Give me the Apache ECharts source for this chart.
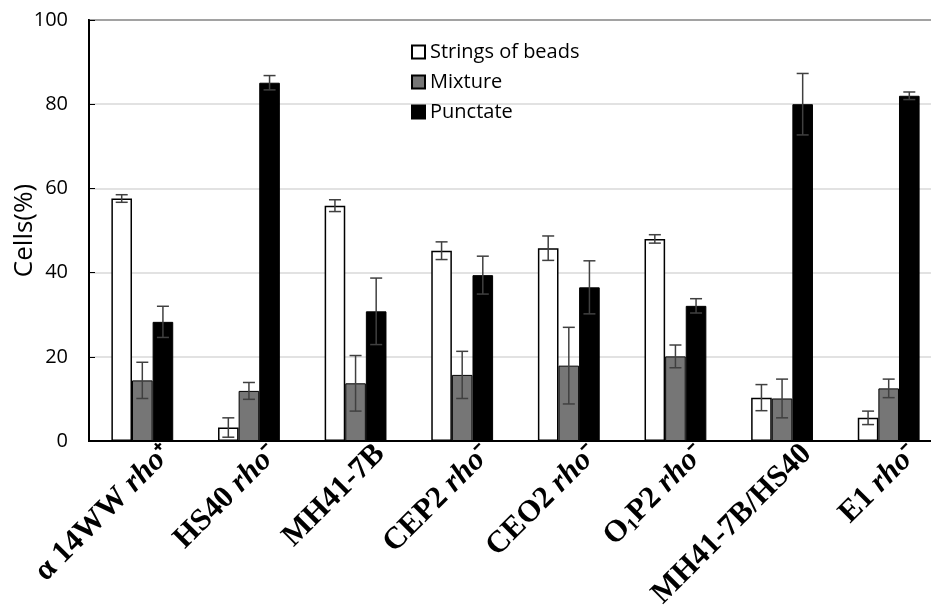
<!DOCTYPE html>
<html>
<head>
<meta charset="utf-8">
<script src="https://cdn.jsdelivr.net/npm/echarts@6/dist/echarts.min.js"></script>
<style>
  html, body { margin: 0; padding: 0; background: #fff; }
  #chart { width: 931px; height: 609px; }
</style>
</head>
<body>
<div id="chart"></div>
<script>
const categories = ['α 14WW rho+', 'HS40 rho-', 'MH41-7B', 'CEP2 rho-', 'CEO2 rho-', 'O1P2 rho-', 'MH41-7B/HS40', 'E1 rho-'];
const seriesNames = ['Strings of beads', 'Mixture', 'Punctate'];

const beads = [57.6, 3.2, 55.9, 45.2, 45.8, 48.0, 10.3, 5.5];
const beadsErr = [0.9, 2.3, 1.4, 2.1, 2.9, 1.0, 3.1, 1.6];
const mixture = [14.4, 11.9, 13.7, 15.7, 17.9, 20.1, 10.1, 12.5];
const mixtureErr = [4.3, 2.0, 6.6, 5.6, 9.1, 2.7, 4.6, 2.2];
const punctate = [28.3, 85.1, 30.8, 39.4, 36.5, 32.1, 80.0, 82.0];
const punctateErr = [3.7, 1.7, 7.9, 4.5, 6.3, 1.7, 7.3, 0.9];

const yTicks = [0, 20, 40, 60, 80, 100];

const gapRatio = 0.42;
const values = [beads, mixture, punctate];
const errors = [beadsErr, mixtureErr, punctateErr];
const fills = ['#ffffff', '#767676', '#000000'];

const chart = echarts.init(document.getElementById('chart'));

function errorSeries(k) {
  return {
    type: 'custom',
    name: seriesNames[k] + ' err',
    z: 5,
    data: values[k].map((v, i) => [i, v, errors[k][i]]),
    renderItem: function (params, api) {
      const i = api.value(0);
      const v = api.value(1);
      const e = api.value(2);
      const band = api.size([1, 0])[0];
      const barW = band * (1 - gapRatio) / 3;
      const x = api.coord([i, v])[0] + (k - 1) * barW;
      const yTop = api.coord([i, v + e])[1];
      const yBot = api.coord([i, v - e])[1];
      const cap = 6;
      const st = { stroke: '#404040', lineWidth: 1.5 };
      return {
        type: 'group',
        children: [
          { type: 'line', shape: { x1: x, y1: yTop, x2: x, y2: yBot }, style: st },
          { type: 'line', shape: { x1: x - cap, y1: yTop, x2: x + cap, y2: yTop }, style: st },
          { type: 'line', shape: { x1: x - cap, y1: yBot, x2: x + cap, y2: yBot }, style: st }
        ]
      };
    }
  };
}

const option = {
  animation: false,
  grid: {
    left: 89,
    top: 20,
    width: 853,
    height: 421,
    outerBoundsMode: 'none',
    containLabel: false,
    show: true,
    borderColor: '#000',
    borderWidth: 2
  },
  legend: {
    data: seriesNames,
    orient: 'vertical',
    left: 406,
    top: 37,
    itemWidth: 13,
    itemHeight: 13,
    itemGap: 10,
    icon: 'rect',
    textStyle: { fontSize: 20, color: '#000', fontFamily: 'Open Sans' }
  },
  xAxis: {
    type: 'category',
    data: categories,
    axisLine: { lineStyle: { color: '#000', width: 2 } },
    axisTick: { show: false },
    axisLabel: {
      rotate: 45,
      interval: 0,
      margin: 33,
      padding: [0, -35, 0, 0],
      fontFamily: 'Liberation Serif',
      fontWeight: 'bold',
      fontSize: 31,
      color: '#000',
      formatter: function (s) {
        return s.replace(/^O1/, 'O{sub|1}')
          .replace(/rho\+/, '{i|rho}{s|⁺}')
          .replace(/rho-/, '{i|rho}{s|⁻}');
      },
      rich: {
        i: { fontFamily: 'Liberation Serif', fontWeight: 'bold', fontStyle: 'italic', fontSize: 31, color: '#000' },
        s: { fontFamily: 'Liberation Serif', fontSize: 27, color: '#000' },
        sub: { fontFamily: 'Liberation Serif', fontWeight: 'bold', fontSize: 18, color: '#000', verticalAlign: 'bottom' }
      }
    }
  },
  yAxis: {
    type: 'value',
    min: 0,
    max: 100,
    interval: 20,
    name: 'Cells(%)',
    nameLocation: 'middle',
    nameRotate: 90,
    nameGap: 51,
    nameMoveOverlap: false,
    nameTextStyle: { fontSize: 26, color: '#000', fontFamily: 'Open Sans' },
    axisLine: { show: true, lineStyle: { color: '#000', width: 2 } },
    axisTick: { show: true, inside: true, length: 6, lineStyle: { color: '#000' } },
    splitLine: { lineStyle: { color: '#d9d9d9', width: 1.5 } },
    axisLabel: {
      fontSize: 20,
      color: '#000',
      fontFamily: 'Open Sans',
      margin: 21,
      formatter: function (v) { return yTicks.indexOf(v) >= 0 ? String(v) : ''; }
    }
  },
  series: [
    {
      name: seriesNames[0], type: 'bar', data: beads,
      barGap: '0%', barCategoryGap: (gapRatio * 100) + '%',
      itemStyle: { color: fills[0], borderColor: '#000', borderWidth: 1.5 }
    },
    {
      name: seriesNames[1], type: 'bar', data: mixture,
      itemStyle: { color: fills[1], borderColor: '#000', borderWidth: 1 }
    },
    {
      name: seriesNames[2], type: 'bar', data: punctate,
      itemStyle: { color: fills[2], borderColor: '#000', borderWidth: 1 }
    },
    errorSeries(0),
    errorSeries(1),
    errorSeries(2)
  ]
};

chart.setOption(option);
</script>
</body>
</html>
